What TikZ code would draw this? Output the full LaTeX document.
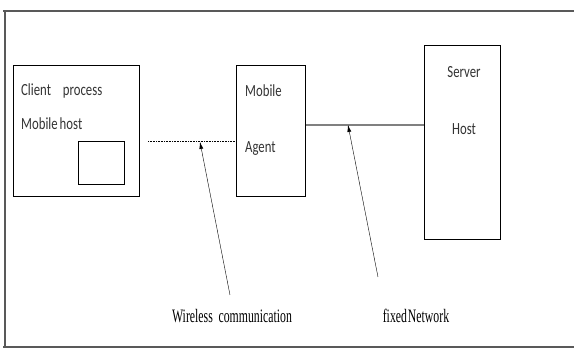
\documentclass[tikz,border=0pt]{standalone}
\usepackage{fontspec}
\setmainfont[FakeStretch=0.62]{Liberation Serif}
\newfontfamily\boxfont[FakeStretch=0.75]{Carlito}
\usetikzlibrary{arrows.meta,positioning}

\begin{document}
\begin{tikzpicture}[
	x=1pt, y=-1pt,
	>={Latex[length=7pt,width=4pt]},
	box/.style={
		draw,
		thick,
		inner sep=0pt,
		anchor=north west
	},
	boxtext/.style={
		font=\boxfont\fontsize{17}{20}\selectfont,
		text=black!80,
		inner sep=0pt,
		anchor=base west
	},
	note/.style={
		font=\fontsize{19}{22}\selectfont,
		inner sep=0pt,
		anchor=base
	}]

	\useasboundingbox (0,0) rectangle (574,350);

	% frame
	\draw[gray!70!black, line width=1.2pt] (3,11) -- (574,11);
	\draw[gray!70!black, line width=1.2pt] (5,11) -- (5,347);
	\draw[gray!70!black, line width=1.2pt] (3,347) -- (574,347);

	% boxes
	\node[box, minimum width=126pt, minimum height=131pt] (client) at (13,65) {};
	\node[box, minimum width=46pt, minimum height=43pt] (proc) at (78,141) {};
	\node[box, minimum width=69pt, minimum height=131pt] (agent) at (236,65) {};
	\node[box, minimum width=76pt, minimum height=194pt] (server) at (424,45) {};

	% box texts
	\node[boxtext] (clienttext) at (21,96) {Client\hspace{0.7em}process};
	\node[boxtext] (hosttext) at (21,130) {Mobile\hspace{0.12em}host};
	\node[boxtext] (mobiletext) at (245,97) {Mobile};
	\node[boxtext] (agenttext) at (245,153) {Agent};
	\node[boxtext, anchor=base] (servertext) at (464,78) {Server};
	\node[boxtext, anchor=base] (shosttext) at (464,135) {Host};

	% links
	\coordinate (wl) at (148,141);
	\coordinate (wltip) at (200,142);
	\coordinate (fixtip) at (348,125);
	\draw[densely dotted, semithick] (wl) -- (agent.west |- wl);
	\draw[gray, line width=2.2pt] (agent.east |- fixtip) -- (server.west |- fixtip);

	% notes
	\node[note] (wlabel) at (232,323) {Wireless\hspace{0.15em} communication};
	\node[note] (flabel) at (416,323) {fixed\hspace{0.05em}Network};
	\coordinate (wltail) at (230,295);
	\coordinate (fixtail) at (378,277);
	\draw[->] (wltail) -- (wltip);
	\draw[->] (fixtail) -- (fixtip);
\end{tikzpicture}
\end{document}
